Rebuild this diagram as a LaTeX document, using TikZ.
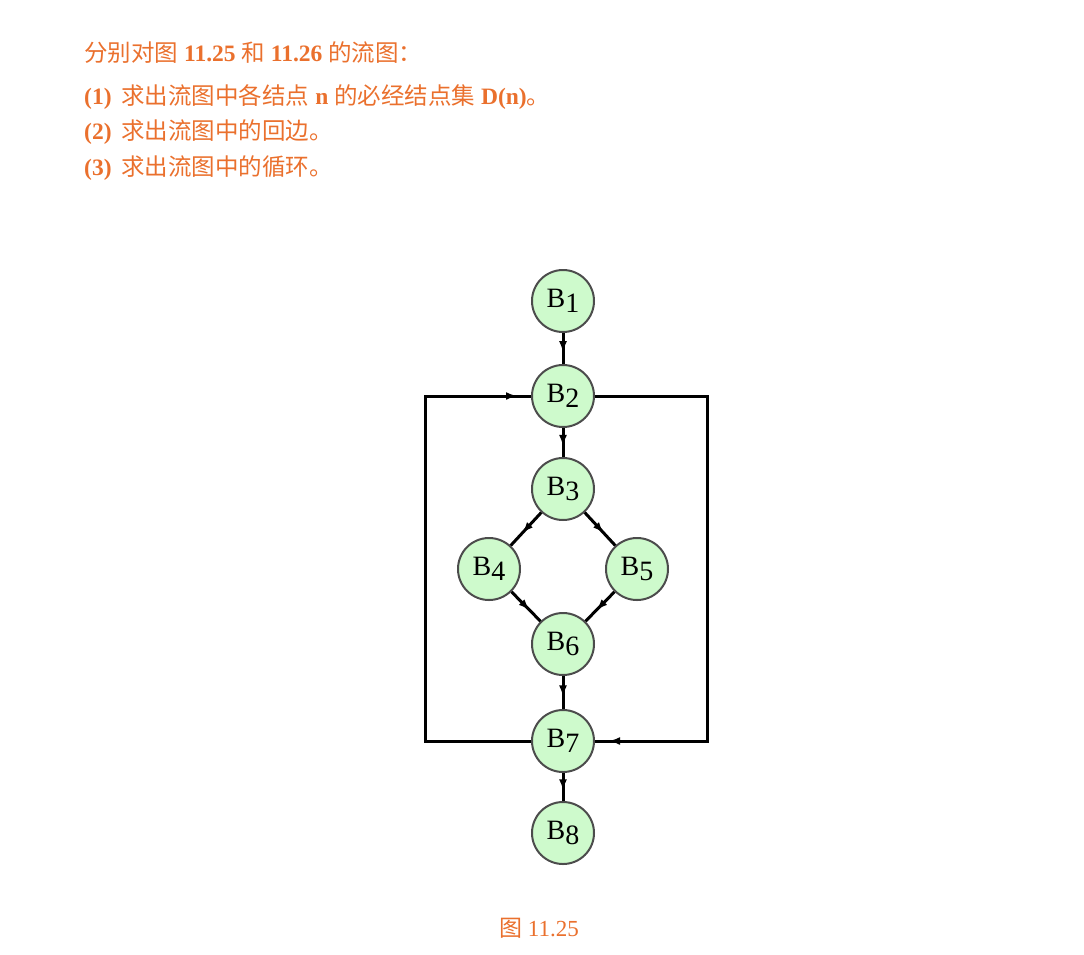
\documentclass[tikz,border=0pt]{standalone}
\usepackage{fontspec}
\setmainfont{Liberation Serif}
\newfontfamily\cjk{Noto Sans CJK SC}
\usetikzlibrary{arrows.meta}
\usetikzlibrary{decorations.markings}
\definecolor{taskorange}{RGB}{234,112,45}
\definecolor{blockgreen}{RGB}{206,250,204}
\newcommand{\blk}[1]{B\raisebox{-5pt}{#1}}

\begin{document}
\begin{tikzpicture}[x=1pt,y=-1pt,
    block/.style={circle, draw=black!70, fill=blockgreen, line width=2pt,
      minimum size=62pt, inner sep=0pt, font=\fontsize{28}{28}\selectfont},
    flow/.style={line width=3pt, postaction={decorate}, decoration={markings,
      mark=at position 0.62 with {\arrow{Latex[length=11pt,width=8pt]}}}},
    back/.style={line width=3pt, postaction={decorate}, decoration={markings,
      mark=at position -14pt with {\arrow{Latex[length=11pt,width=8pt]}}}},
    task/.style={anchor=west, text=taskorange, inner sep=0pt,
      font=\fontsize{23.5}{27}\selectfont}]
    \useasboundingbox (0,0) rectangle (1084,954);

    % exercise text
    \node[task] (t0) at (84,53) {{\cjk 分别对图} \textbf{11.25} {\cjk 和} \textbf{11.26} {\cjk 的流图：}};
    \node[task] (t1) at (84,97) {\textbf{(1)}\, {\cjk 求出流图中各结点} \textbf{n} {\cjk 的必经结点集} \textbf{D(n)}{\cjk 。}};
    \node[task] (t2) at (84,132) {\textbf{(2)}\, {\cjk 求出流图中的回边。}};
    \node[task] (t3) at (84,168) {\textbf{(3)}\, {\cjk 求出流图中的循环。}};

    % flow graph
    \node[block] (b1) at (563,301) {\blk{1}};
    \node[block] (b2) at (563,396) {\blk{2}};
    \node[block] (b3) at (563,489) {\blk{3}};
    \node[block] (b4) at (489,569) {\blk{4}};
    \node[block] (b5) at (637,569) {\blk{5}};
    \node[block] (b6) at (563,644) {\blk{6}};
    \node[block] (b7) at (563,741) {\blk{7}};
    \node[block] (b8) at (563,833) {\blk{8}};

    \draw[flow] (b1) -- (b2);
    \draw[flow] (b2) -- (b3);
    \draw[flow] (b3) -- (b4);
    \draw[flow] (b3) -- (b5);
    \draw[flow] (b4) -- (b6);
    \draw[flow] (b5) -- (b6);
    \draw[flow] (b6) -- (b7);
    \draw[flow] (b7) -- (b8);

    % the two long edges round the graph
    \draw[back] (b7) -- ++(-138,0) |- (b2);
    \draw[back] (b2) -- ++(144,0) |- (b7);

    % caption
    \node[text=taskorange, font=\fontsize{23}{27}\selectfont] (cap) at (539,928) {{\cjk 图} 11.25};
\end{tikzpicture}
\end{document}
